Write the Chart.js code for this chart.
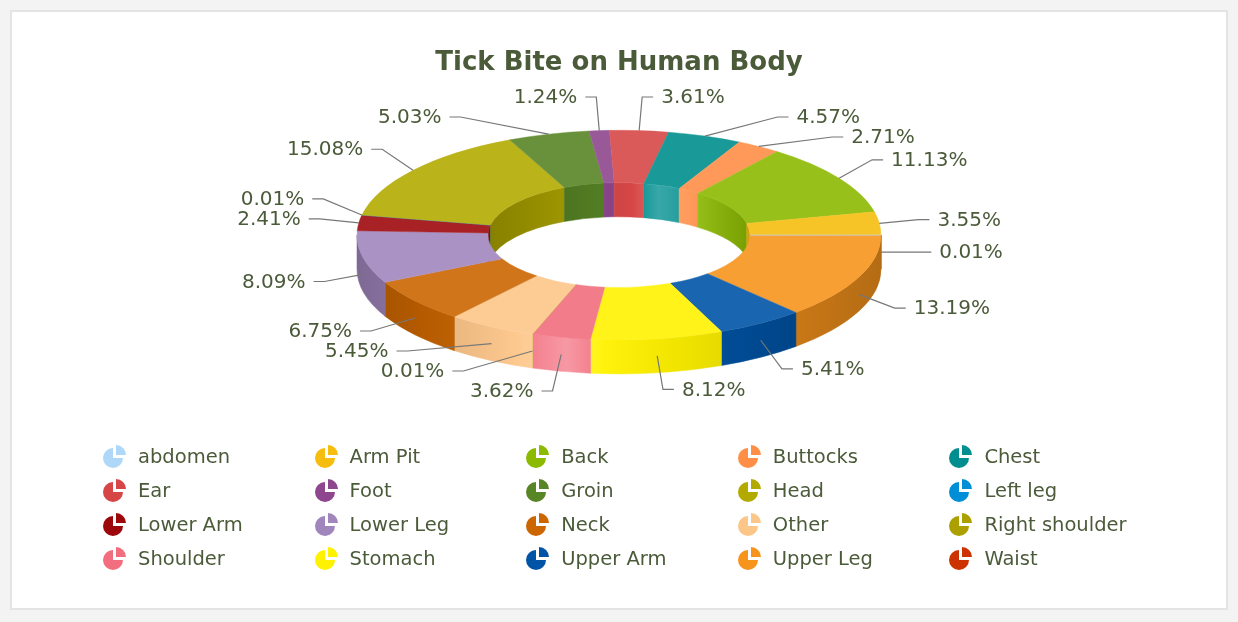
<!DOCTYPE html>
<html>
<head>
<meta charset="utf-8">
<title>Tick Bite on Human Body</title>
<script src="https://cdn.jsdelivr.net/npm/chart.js@4.4.1/dist/chart.umd.min.js"></script>
<style>
  body { margin: 0; background: #f3f3f3; font-family: "DejaVu Sans", Verdana, sans-serif; }
  #frame { position: absolute; left: 10px; top: 10px; width: 1214px; height: 596px; border: 2px solid #e4e4e4; background: #fff; }
  #wrap { position: absolute; left: 0; top: 0; width: 1238px; height: 622px; }
  #legend { position: absolute; left: 102px; top: 439px; display: grid; grid-template-columns: repeat(5, 211.6px); grid-auto-rows: 34px; }
  .item { display: flex; align-items: center; font-size: 19.5px; color: #4b5b3a; white-space: nowrap; }
  .item svg { width: 25px; height: 25px; margin-right: 11px; flex: none; }
</style>
</head>
<body>
<div id="frame"></div>
<div id="wrap"><canvas id="chart"></canvas></div>
<div id="legend"></div>
<script>
// body parts, in legend order
const categories = ['abdomen', 'Arm Pit', 'Back', 'Buttocks', 'Chest', 'Ear', 'Foot', 'Groin', 'Head', 'Left leg',
    'Lower Arm', 'Lower Leg', 'Neck', 'Other', 'Right shoulder', 'Shoulder', 'Stomach', 'Upper Arm', 'Upper Leg', 'Waist'];
// share of bites, percent
const shares = [0.01, 3.55, 11.13, 2.71, 4.57, 3.61, 1.24, 5.03, 15.08, 0.01,
    2.41, 8.09, 6.75, 5.45, 0.01, 3.62, 8.12, 5.41, 13.19, 0.01];
const palette = ['#AFD8F8', '#F6BD0F', '#8BBA00', '#FF8E46', '#008E8E', '#D64646', '#8E468E', '#588526', '#B3AA00', '#008ED6',
    '#9D080D', '#A186BE', '#CC6600', '#FDC689', '#ABA000', '#F26D7D', '#FFF200', '#0054A6', '#F7941C', '#CC3300'];

const textColor = '#4b5b3a';
const depth = 34;     // wall height in px
const tilt = 0.4;     // vertical squash of the ring

// the ring runs counter-clockwise from 3 o'clock, so feed it reversed
const ringLabels = categories.slice().reverse();
const ringShares = shares.slice().reverse();
const ringColors = palette.slice().reverse();

// amt > 0 mixes toward white, amt < 0 toward black
function mix(hex, amt) {
    const n = parseInt(hex.slice(1), 16);
    const t = amt > 0 ? 255 : 0, a = Math.abs(amt);
    const c = [n >> 16, (n >> 8) & 255, n & 255].map(v => Math.round(v + (t - v) * a));
    return 'rgb(' + c.join(',') + ')';
}

const outerShade = [[0, -0.22], [0.12, -0.12], [0.3, 0.04], [0.4, 0.3], [0.47, 0.05], [0.6, -0.05], [0.75, -0.12], [0.86, -0.2], [1, -0.27]];
const innerShade = [[0, -0.25], [0.3, -0.12], [0.55, 0], [0.65, 0.22], [0.78, 0.1], [1, -0.15]];

function shadeFill(ctx, rad, col, stops) {
    const g = ctx.createLinearGradient(-rad, 0, rad, 0);
    stops.forEach(s => g.addColorStop(s[0], mix(col, s[1])));
    return g;
}

function wall(ctx, rad, a, b, d, fill) {
    if (b <= a) return;
    ctx.beginPath();
    ctx.arc(0, 0, rad, a, b);
    ctx.arc(0, d, rad, b, a, true);
    ctx.closePath();
    ctx.fillStyle = fill;
    ctx.strokeStyle = fill;
    ctx.lineWidth = 0.8;
    ctx.fill();
    ctx.stroke();
}

function drawLabels(chart) {
    const ctx = chart.ctx;
    const arcs = chart.getDatasetMeta(0).data;
    const {x, y, outerRadius: R} = arcs[0];
    const A = R * 1.15, B = R * 0.53;
    const minY = 97, maxY = 391, gap = 20;
    const groups = {};
    const kept = [];

    arcs.forEach((arc, i) => {
        let m = (arc.startAngle + arc.endAngle) / 2;
        if (m > Math.PI) m -= 2 * Math.PI;
        if (kept.some(k => Math.abs(k.m - m) < 0.017)) return;
        const side = Math.cos(m) >= 0 ? 1 : -1;
        const lower = Math.sin(m) > 0;
        const base = y + (lower ? depth / 2 : 0);
        const lab = {
            m, side, lower, base,
            text: ringShares[i].toFixed(2) + '%',
            ax: x + R * Math.cos(m), ay: base + R * tilt * Math.sin(m),
            nx: x + A * Math.cos(m), ny: base + B * Math.sin(m)
        };
        kept.push(lab);
        const key = side + (lower ? 'L' : 'U');
        (groups[key] = groups[key] || []).push(lab);
    });

    // spread labels from the equator outwards, then pull back inside the limits
    Object.values(groups).forEach(list => {
        const lower = list[0].lower;
        list.sort((p, q) => lower ? p.ny - q.ny : q.ny - p.ny);
        list.forEach((l, i) => {
            if (i === 0) l.ly = l.ny;
            else l.ly = lower ? Math.max(l.ny, list[i - 1].ly + gap) : Math.min(l.ny, list[i - 1].ly - gap);
        });
        const n = list.length - 1;
        if (lower && list[n].ly > maxY) {
            list[n].ly = maxY;
            for (let i = n - 1; i >= 0; i--) list[i].ly = Math.min(list[i].ly, list[i + 1].ly - gap);
        }
        if (!lower && list[n].ly < minY) {
            list[n].ly = minY;
            for (let i = n - 1; i >= 0; i--) list[i].ly = Math.max(list[i].ly, list[i + 1].ly + gap);
        }
    });

    ctx.save();
    ctx.strokeStyle = '#777';
    ctx.lineWidth = 1.2;
    ctx.fillStyle = textColor;
    ctx.font = '20px "DejaVu Sans", Verdana, sans-serif';
    ctx.textBaseline = 'middle';
    kept.forEach(l => {
        const t = Math.min(1, Math.abs(l.ly - l.base) / B);
        const ellX = x + l.side * A * Math.sqrt(1 - t * t);
        const ex = Math.abs(l.ly - l.ny) < 2 ? l.nx : (l.side > 0 ? Math.max(l.nx, ellX) : Math.min(l.nx, ellX));
        ctx.beginPath();
        ctx.moveTo(l.ax, l.ay);
        ctx.lineTo(ex, l.ly);
        ctx.lineTo(ex + l.side * 11, l.ly);
        ctx.stroke();
        ctx.textAlign = l.side > 0 ? 'left' : 'right';
        ctx.fillText(l.text, ex + l.side * 19, l.ly + 1);
    });
    ctx.restore();
}

const tiltPlugin = {
    id: 'tilt',
    beforeDatasetsDraw(chart) {
        const ctx = chart.ctx;
        const arcs = chart.getDatasetMeta(0).data;
        const {x, y, outerRadius: R, innerRadius: r} = arcs[0];
        const d = depth / tilt;
        ctx.save();
        ctx.translate(x, y);
        ctx.scale(1, tilt);
        arcs.forEach((arc, i) => {
            const col = ringColors[i];
            const a = arc.startAngle, b = arc.endAngle;
            // inner wall shows at the back of the hole, outer wall at the front
            wall(ctx, r, Math.max(a, Math.PI), Math.min(b, 2 * Math.PI), d, shadeFill(ctx, r, col, innerShade));
            wall(ctx, R, Math.max(a, 0), Math.min(b, Math.PI), d, shadeFill(ctx, R, col, outerShade));
        });
        ctx.translate(-x, -y);
    },
    afterDatasetsDraw(chart) {
        chart.ctx.restore();
        drawLabels(chart);
    }
};

const topColors = ringColors.map(c => mix(c, 0.1));

new Chart(document.getElementById('chart'), {
    type: 'doughnut',
    data: {
        labels: ringLabels,
        datasets: [{
            data: ringShares,
            backgroundColor: topColors,
            borderColor: topColors,
            borderWidth: 0.6,
            clip: false
        }]
    },
    options: {
        responsive: true,
        maintainAspectRatio: false,
        animation: false,
        events: [],
        rotation: 90,
        cutout: '50%',
        radius: 262,
        layout: { padding: { top: 0, bottom: 238, left: 0, right: 0 } },
        plugins: {
            legend: { display: false },
            tooltip: { enabled: false },
            title: {
                display: true,
                text: 'Tick Bite on Human Body',
                color: textColor,
                font: { family: '"DejaVu Sans", Verdana, sans-serif', size: 26, weight: 'bold' },
                padding: { top: 48, bottom: 7 }
            }
        }
    },
    plugins: [tiltPlugin]
});

// legend grid
const legend = document.getElementById('legend');
categories.forEach((name, i) => {
    const c = palette[i];
    const item = document.createElement('div');
    item.className = 'item';
    item.innerHTML = '<svg viewBox="-11 -14 25 25"><path d="M0,0 L10,0 A10,10 0 1,1 0,-10 Z" fill="' + c + '"/>' +
        '<path d="M3,-3 L3,-13 A10,10 0 0,1 13,-3 Z" fill="' + c + '"/></svg><span>' + name + '</span>';
    legend.appendChild(item);
});
</script>
</body>
</html>
